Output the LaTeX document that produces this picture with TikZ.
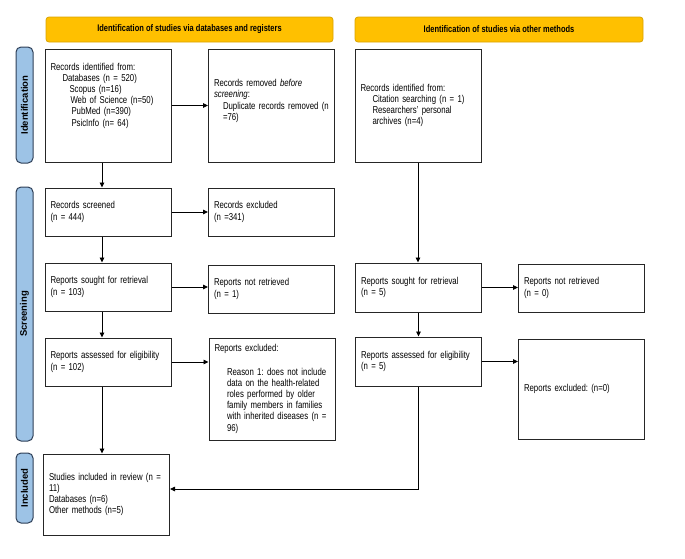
\documentclass[tikz,border=0pt]{standalone}
\usepackage{fontspec}
\setmainfont{Liberation Sans}[FakeStretch=0.78]
\newfontfamily\labfont{Liberation Sans}
\usetikzlibrary{arrows.meta}
\definecolor{bannerfill}{HTML}{FFC000}
\definecolor{bannerline}{HTML}{D9A300}
\definecolor{labfill}{HTML}{9DC3E6}
\definecolor{labline}{HTML}{2F4058}
\frenchspacing
\hyphenpenalty=10000
\begin{document}
\begin{tikzpicture}[x=1pt,y=-1pt,
  box/.style={draw=black!85, line width=1pt, text width=115pt, inner xsep=5.5pt, align=left, font=\fontsize{10}{11.2}\selectfont},
  banner/.style={draw=bannerline, fill=bannerfill, rounded corners=3pt, line width=0.8pt, minimum height=25pt, font=\fontsize{9.6}{10}\selectfont\bfseries},
  sidelab/.style={draw=labline, fill=labfill, rounded corners=5pt, line width=1pt, rotate=90, minimum height=17pt, inner sep=1pt, font=\labfont\fontsize{9.5}{10}\selectfont\bfseries},
  arr/.style={-{Triangle[length=5pt,width=4.5pt]}, line width=0.9pt}]
\useasboundingbox (0,0) rectangle (685,558);

% Headers
\node[banner, minimum width=287pt] (banL) at (189.5,29.5) {Identification of studies via databases and registers};
\node[banner, minimum width=288pt] (banR) at (499,29.5) {Identification of studies via other methods};

\node[sidelab, minimum width=116pt] (labId) at (24.5,105) {Identification};
\node[sidelab, minimum width=254pt] (labScr) at (24.5,314) {Screening};
\node[sidelab, minimum width=70pt] (labInc) at (24.5,488) {Included};

% Databases and registers
\node[box, minimum height=113pt] (idL) at (108,105.5) {Records identified from:\\
  \hspace*{12pt}Databases (n = 520)\\
  \hspace*{19pt}Scopus (n=16)\\
  \hspace*{20pt}Web of Science (n=50)\\
  \hspace*{21pt}PubMed (n=390)\\
  \hspace*{21pt}PsicInfo (n= 64)\\[11pt]\mbox{}};
\node[box, minimum height=113pt] (remL) at (271.5,105.5) {Records removed \textit{before}\\
  \textit{screening}:\\
  \mbox{\hspace*{9pt}Duplicate records removed (n}\\
  \hspace*{9pt}=76)\\\mbox{}};
\node[box, minimum height=48pt] (scrL) at (108,212) {Records screened\\(n = 444)};
\node[box, minimum height=48pt] (excL) at (271.5,212) {Records excluded\\(n =341)};
\node[box, minimum height=48pt] (soughtL) at (108,287) {Reports sought for retrieval\\(n = 103)};
\node[box, minimum height=48pt] (notretL) at (271.5,289) {Reports not retrieved\\(n = 1)};
\node[box, minimum height=48pt] (assL) at (108,362) {Reports assessed for eligibility\\(n = 102)};
\node[box, minimum height=102pt] (reasonL) at (272,389) {Reports excluded:\\[12pt]
  \hspace*{12.5pt}Reason 1: does not include\\
  \hspace*{12.5pt}data on the health-related\\
  \hspace*{12.5pt}roles performed by older\\
  \hspace*{12.5pt}family members in families\\
  \mbox{\hspace*{12.5pt}with inherited diseases (n =}\\
  \hspace*{12.5pt}96)};
\node[box, minimum height=81pt] (inclL) at (106.5,494.5) {\mbox{Studies included in review (n =}\\
  11)\\
  Databases (n=6)\\
  Other methods (n=5)};

% Other methods
\node[box, minimum height=113pt] (idR) at (418,105.5) {Records identified from:\\
  \hspace*{12pt}Citation searching (n = 1)\\
  \hspace*{12pt}Researchers' personal\\
  \hspace*{12pt}archives (n=4)};
\node[box, minimum height=49pt] (soughtR) at (418.5,287.5) {Reports sought for retrieval\\(n = 5)};
\node[box, minimum height=48pt] (notretR) at (581.5,288) {Reports not retrieved\\(n = 0)};
\node[box, minimum height=49pt] (assR) at (418.5,361.5) {Reports assessed for eligibility\\(n = 5)};
\node[box, minimum height=100pt] (exclR) at (581.5,389) {Reports excluded: (n=0)};

% Connectors
\coordinate (colL) at (102,0);
\draw[arr] (idL.east) -- (remL.west);
\draw[arr] (scrL.east) -- (excL.west);
\draw[arr] (soughtL.east) -- (soughtL.east -| notretL.west);
\draw[arr] (assL.east) -- (assL.east -| reasonL.west);
\draw[arr] (idL.south -| colL) -- (scrL.north -| colL);
\draw[arr] (scrL.south -| colL) -- (soughtL.north -| colL);
\draw[arr] (soughtL.south -| colL) -- (assL.north -| colL);
\draw[arr] (assL.south -| colL) -- (inclL.north -| colL);

\draw[arr] (idR.south) -- (soughtR.north -| idR.south);
\draw[arr] (soughtR.east) -- (soughtR.east -| notretR.west);
\draw[arr] (assR.east) -- (assR.east -| exclR.west);
\draw[arr] (soughtR.south) -- (assR.north);
\draw[arr] (assR.south) |- ([yshift=5.5pt]inclL.east);

\end{tikzpicture}
\end{document}
